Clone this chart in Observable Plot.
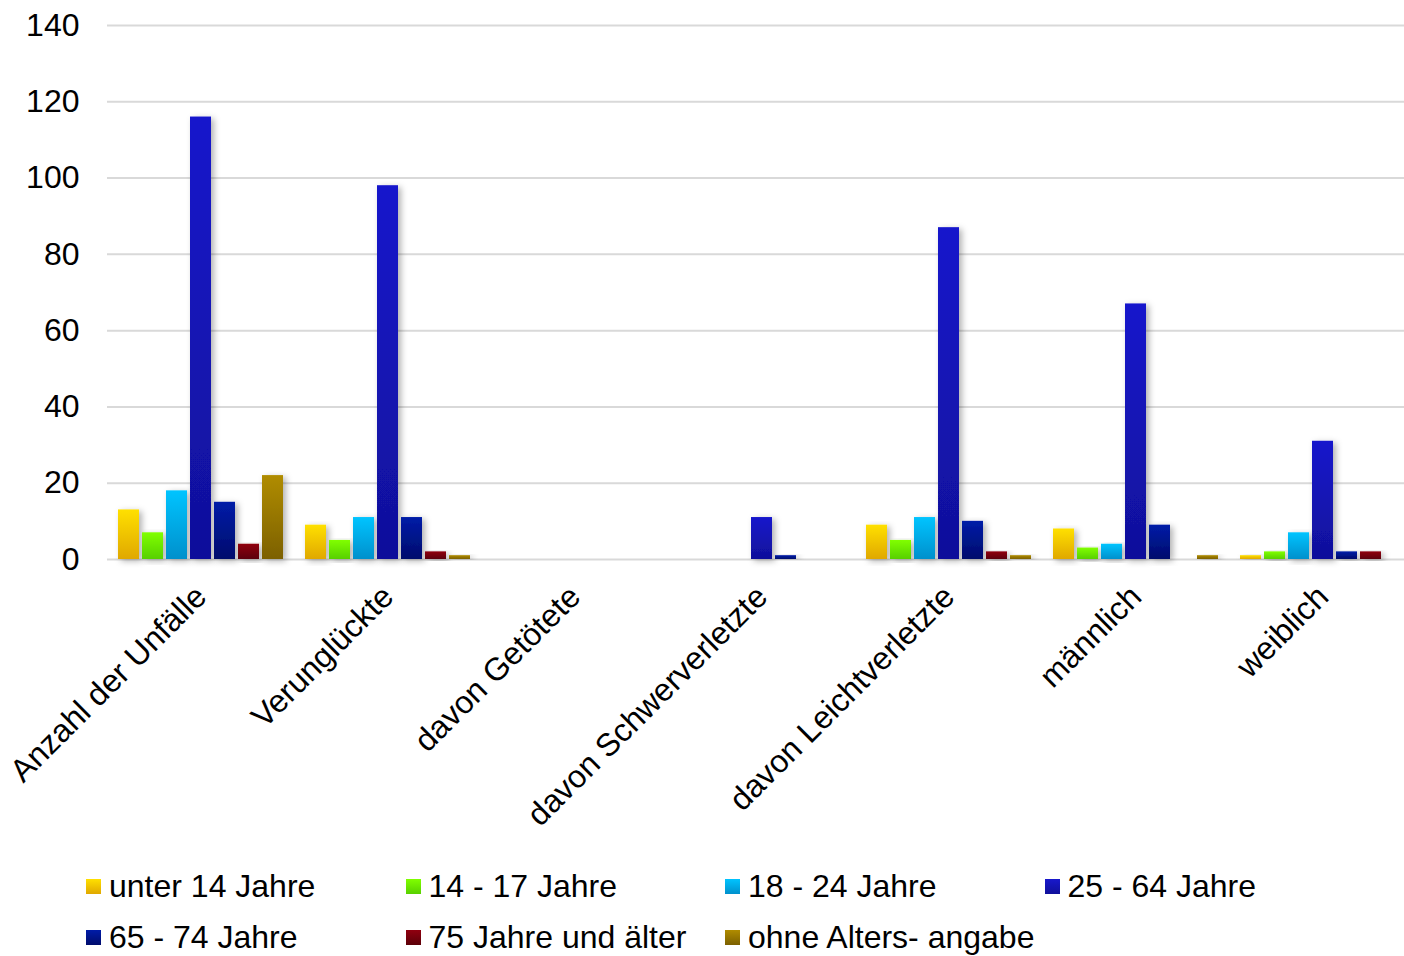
<!DOCTYPE html>
<html><head><meta charset="utf-8">
<script src="https://cdn.jsdelivr.net/npm/d3@7"></script>
<script src="https://cdn.jsdelivr.net/npm/@observablehq/plot@0.6"></script>
<style>
html,body{margin:0;background:#fff;font-family:"Liberation Sans",Arial,sans-serif;overflow:hidden;}
#wrap{position:relative;width:1404px;height:956px;overflow:hidden;}
#chart svg{max-width:none !important;}
.item{position:absolute;display:flex;align-items:center;font-size:32px;line-height:34px;color:#000;white-space:nowrap;}
.sw{width:15px;height:15px;margin-right:8px;}
</style></head><body><div id="wrap"><div id="chart"></div></div>
<script>
const categories = ["Anzahl der Unfälle","Verunglückte","davon Getötete","davon Schwerverletzte","davon Leichtverletzte","männlich","weiblich"];
const series = ["unter 14 Jahre","14 - 17 Jahre","18 - 24 Jahre","25 - 64 Jahre","65 - 74 Jahre","75 Jahre und älter","ohne Alters- angabe"];
const unter14 = [13, 9, 0, 0, 9, 8, 1];
const j14_17 = [7, 5, 0, 0, 5, 3, 2];
const j18_24 = [18, 11, 0, 0, 11, 4, 7];
const j25_64 = [116, 98, 0, 11, 87, 67, 31];
const j65_74 = [15, 11, 0, 1, 10, 9, 2];
const j75plus = [4, 2, 0, 0, 2, 0, 2];
const ohneAngabe = [22, 1, 0, 0, 1, 1, 0];
const yTicks = [0, 20, 40, 60, 80, 100, 120, 140];
const gradTop = ["#FFE000","#80FF00","#00C4FF","#1818CC","#001CA8","#900010","#B08C00"];
const gradBottom = ["#E0A800","#58D000","#0090CC","#10109A","#000C6C","#5C0008","#7C6000"];

const seriesValues = [unter14, j14_17, j18_24, j25_64, j65_74, j75plus, ohneAngabe];
const data = [];
categories.forEach((c, ci) => series.forEach((s, si) => data.push({cat: c, ser: s, value: seriesValues[si][ci]})));

const chart = Plot.plot({
  width: 1418, height: 860,
  marginLeft: 105, marginRight: 0, marginTop: 25, marginBottom: 301,
  style: {fontFamily: "'Liberation Sans', Arial, sans-serif", fontSize: "32px", color: "#000", background: "#fff", overflow: "visible", maxWidth: "none"},
  fx: {domain: categories, padding: 0, label: null, tickRotate: -45, tickSize: 0, tickPadding: 32},
  x: {domain: series, axis: null, paddingInner: 0.13, paddingOuter: 0.365},
  y: {domain: [0, 140], ticks: yTicks, label: null, tickSize: 0, tickPadding: 28},
  color: {domain: series, range: series.map((s, i) => `url(#grad${i})`)},
  marks: [
    Plot.ruleY(yTicks, {stroke: "#d9d9d9", strokeWidth: 2}),
    Plot.barY(data, {fx: "cat", x: "ser", y: "value", fill: "ser"})
  ]
});
chart.style.maxWidth = "none";

const svg = d3.select(chart);
const defs = svg.insert("defs", ":first-child");
gradTop.forEach((t, i) => {
  const g = defs.append("linearGradient").attr("id", `grad${i}`).attr("x1", 0).attr("y1", 0).attr("x2", 0).attr("y2", 1);
  g.append("stop").attr("offset", "0%").attr("stop-color", t);
  g.append("stop").attr("offset", "100%").attr("stop-color", gradBottom[i]);
});
const f = defs.append("filter").attr("id", "shadow").attr("x", "-50%").attr("y", "-10%").attr("width", "200%").attr("height", "130%");
f.append("feDropShadow").attr("dx", 3).attr("dy", 2).attr("stdDeviation", 3).attr("flood-color", "#000").attr("flood-opacity", 0.3);
svg.selectAll("g[aria-label='bar'] rect").attr("filter", "url(#shadow)");

document.getElementById("chart").appendChild(chart);

const wrap = document.getElementById("wrap");
series.forEach((s, i) => {
  const row = Math.floor(i / 4), col = i % 4;
  const item = document.createElement("div");
  item.className = "item";
  item.style.left = (86 + col * 319.5) + "px";
  item.style.top = (869 + row * 51) + "px";
  const sw = document.createElement("div");
  sw.className = "sw";
  sw.style.background = `linear-gradient(${gradTop[i]}, ${gradBottom[i]})`;
  const tx = document.createElement("span");
  tx.textContent = s;
  item.appendChild(sw); item.appendChild(tx);
  wrap.appendChild(item);
});
</script></body></html>
